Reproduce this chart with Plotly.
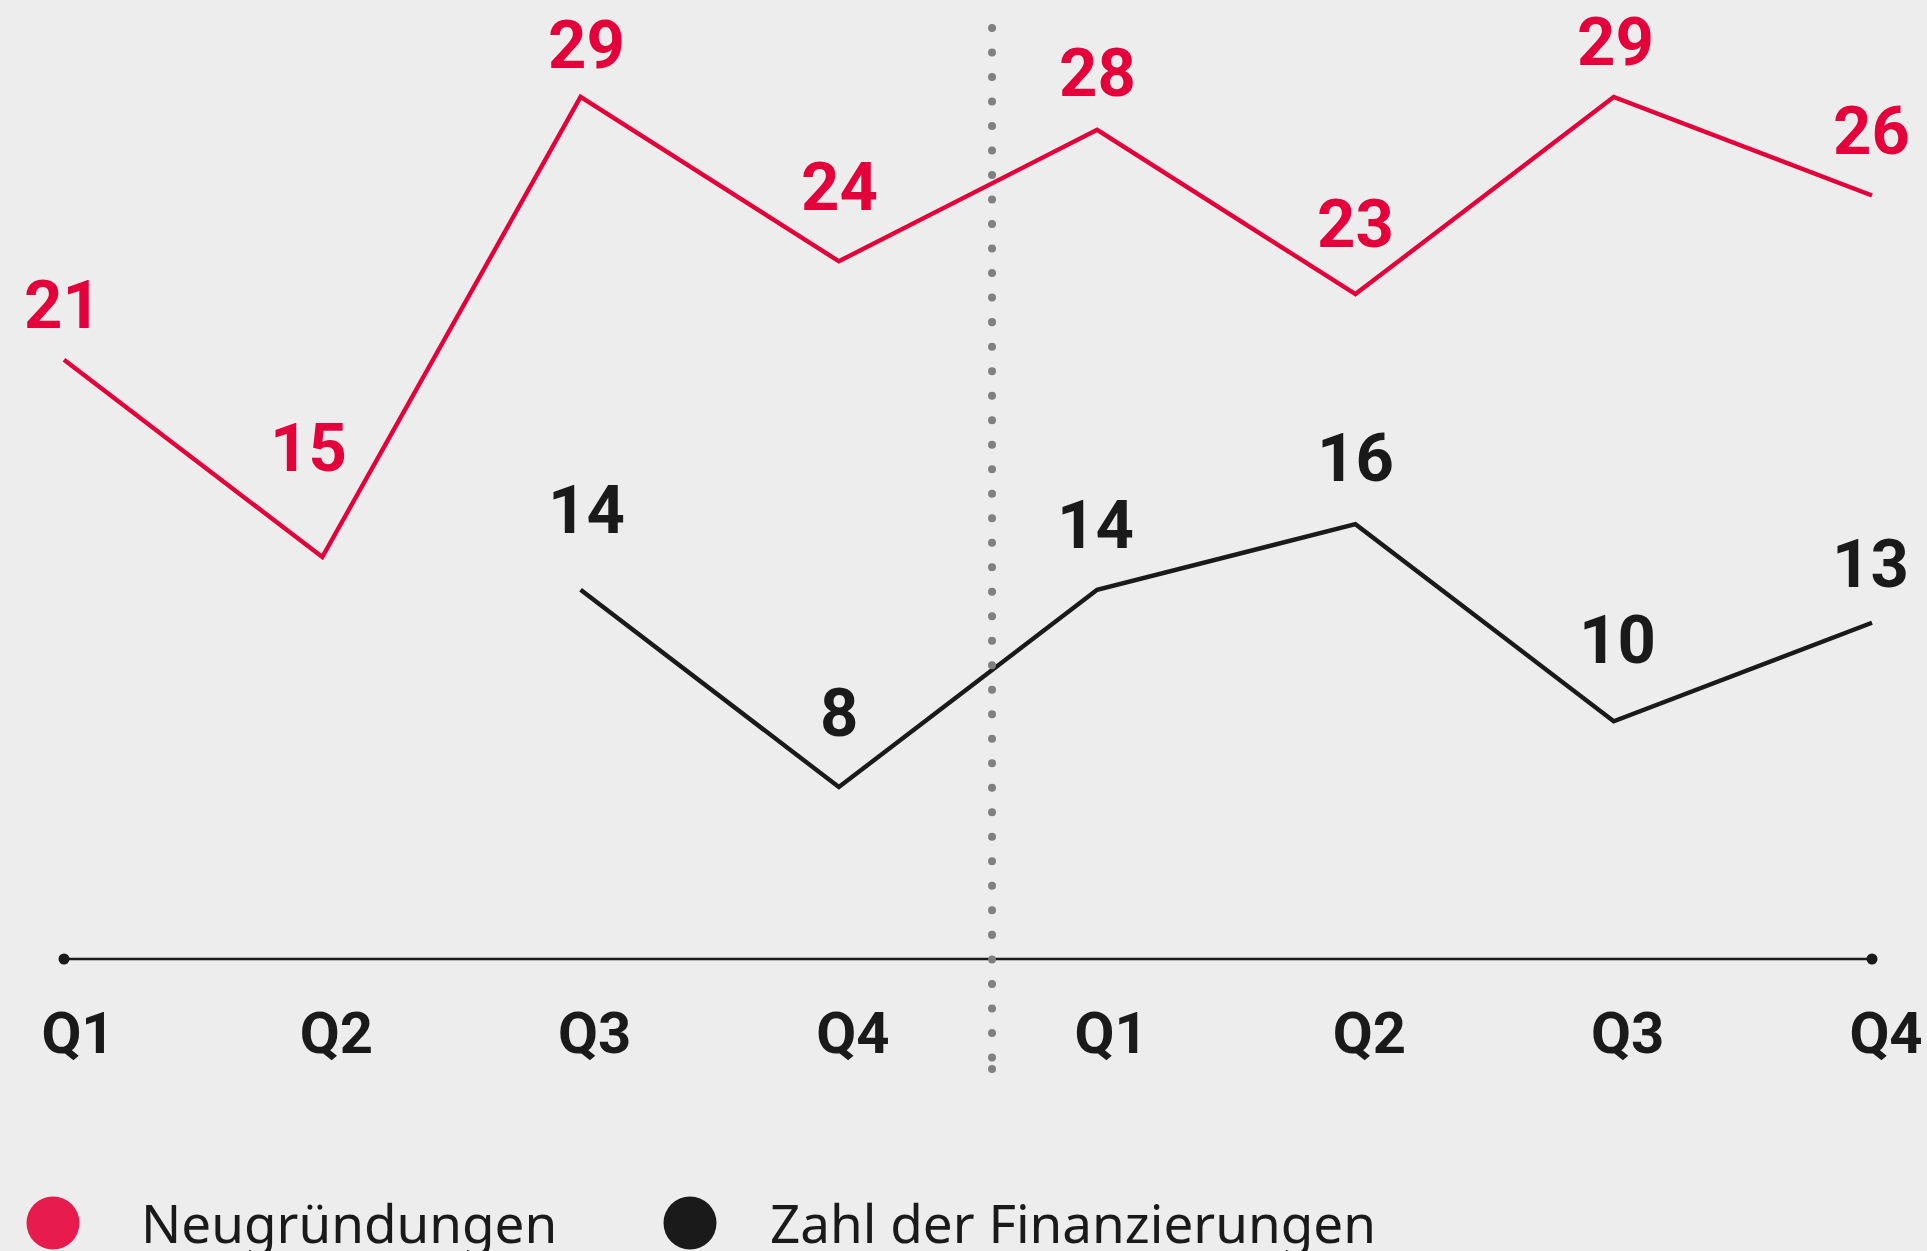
import plotly.graph_objects as go

# ---- data ----
quarters = ["Q1", "Q2", "Q3", "Q4", "Q1", "Q2", "Q3", "Q4"]
neugruendungen = [21, 15, 29, 24, 28, 23, 29, 26]
finanzierungen = [None, None, 14, 8, 14, 16, 10, 13]
series_names = ["Neugründungen", "Zahl der Finanzierungen"]

# ---- label placement (pixels above each point; style, not data) ----
red_label_dy = [55, 109, 52, 74, 57, 70, 55, 65]
red_label_dx = [-2, -14, 6, 1, 0, 0, 2, -1]
black_label_dy = [0, 0, 80, 74, 65, 66, 81, 59]
black_label_dx = [0, 0, 6, 0, -2, 0, 4, -2]

# ---- style ----
RED = "#e4003a"
RED_LEGEND = "#e81b4f"
BLACK = "#1a1a1a"
GREY = "#808080"
BG = "#ededed"
W, H = 1927, 1251
MB = 292                      # bottom margin -> plot area height
PH = H - MB
DIVIDER_X = 3.593

x = list(range(len(quarters)))

fig = go.Figure()
for vals, color, name, dys, dxs in [
        (neugruendungen, RED, series_names[0], red_label_dy, red_label_dx),
        (finanzierungen, BLACK, series_names[1], black_label_dy, black_label_dx)]:
    fig.add_trace(go.Scatter(
        x=x, y=vals, mode="lines", name=name,
        line=dict(color=color, width=4.4),
        connectgaps=False, hoverinfo="skip", showlegend=False,
    ))
    for xi, v, dy, dx in zip(x, vals, dys, dxs):
        if v is None:
            continue
        fig.add_annotation(
            x=xi, y=v, text=str(v), showarrow=False, yshift=dy, xshift=dx,
            xanchor="center", yanchor="middle",
            font=dict(family="Roboto", size=67, color=color, weight="bold"),
        )

n = len(quarters)
# baseline with end dots
fig.add_shape(type="line", xref="x", yref="paper", x0=0, x1=n - 1, y0=0, y1=0,
              line=dict(color=BLACK, width=2.7), layer="below")
for xe in (0, n - 1):
    fig.add_shape(type="circle", xref="x", yref="paper",
                  xsizemode="pixel", ysizemode="pixel",
                  xanchor=xe, yanchor=0, x0=-5.5, x1=5.5, y0=-5.5, y1=5.5,
                  fillcolor=BLACK, line=dict(width=0), layer="below")

# dotted year divider (dots every 24.5 px, one closing dot at the end)
fig.add_shape(type="line", xref="x", yref="paper", x0=DIVIDER_X, x1=DIVIDER_X,
              y0=1 - 28 / PH, y1=1 - 1058 / PH,
              line=dict(color=GREY, width=8, dash="8px,16.5px"), layer="above")
fig.add_shape(type="circle", xref="x", yref="paper",
              xsizemode="pixel", ysizemode="pixel",
              xanchor=DIVIDER_X, yanchor=1 - 1069 / PH,
              x0=-4, x1=4, y0=-4, y1=4,
              fillcolor=GREY, line=dict(width=0))

# custom legend
for cx, color, tx, name in [(53, RED_LEGEND, 139, series_names[0]),
                            (690, BLACK, 768, series_names[1])]:
    fig.add_shape(type="circle", xref="paper", yref="paper",
                  xsizemode="pixel", ysizemode="pixel",
                  xanchor=cx / W, yanchor=1 - 1223 / PH,
                  x0=-26.5, x1=26.5, y0=-26.5, y1=26.5,
                  fillcolor=color, line=dict(width=0))
    fig.add_annotation(x=tx / W, y=1 - 1222 / PH, xref="paper", yref="paper",
                       text=name, showarrow=False, xanchor="left", yanchor="middle",
                       font=dict(family="Noto Sans", size=53, color=BLACK))

px_per_unit = (1872 - 64) / (n - 1)
y_px0, y_slope = 1049.9, 32.86
fig.update_layout(
    width=W, height=H,
    margin=dict(l=0, r=0, t=0, b=MB),
    paper_bgcolor=BG, plot_bgcolor=BG,
    showlegend=False,
    xaxis=dict(
        range=[-64 / px_per_unit, (n - 1) + (W - 1872) / px_per_unit],
        tickvals=x, ticktext=quarters,
        showgrid=False, zeroline=False, showline=False, ticks="",
        tickfont=dict(family="Roboto", size=58, color=BLACK, weight="bold"),
        ticklabelstandoff=35, ticklabelshift=14,
        fixedrange=True,
    ),
    yaxis=dict(
        range=[(y_px0 - PH) / y_slope, y_px0 / y_slope],
        visible=False, showgrid=False, zeroline=False, fixedrange=True,
    ),
)

post = """
document.body.style.margin = '0';
document.body.style.background = '#ededed';
var gd = document.getElementById('{plot_id}');
function roundDots() {
  gd.querySelectorAll('.shapelayer path').forEach(function (p) {
    var d = p.style.strokeDasharray;
    if (d && d !== 'none') {
      p.style.strokeLinecap = 'round';
      p.style.strokeDasharray = '0.01px, 24.5px';
    }
  });
}
roundDots();
gd.on('plotly_afterplot', roundDots);
"""

fig.write_html("out.html", post_script=post, config={"staticPlot": True})
